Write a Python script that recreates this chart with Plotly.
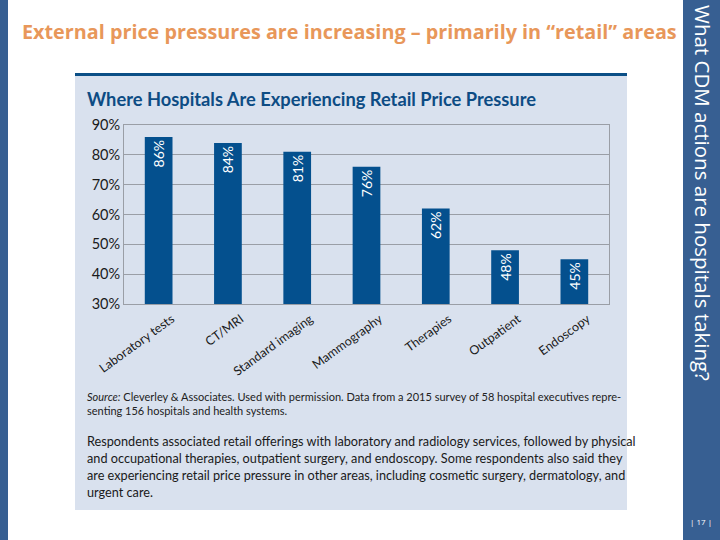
import plotly.graph_objects as go

categories = ["Laboratory tests", "CT/MRI", "Standard imaging", "Mammography",
              "Therapies", "Outpatient", "Endoscopy"]
values = [86, 84, 81, 76, 62, 48, 45]
labels = [f"{v}%" for v in values]
y_ticks = [30, 40, 50, 60, 70, 80, 90]
y_ticktext = [f"{t}%" for t in y_ticks]

slide_title = "External price pressures are increasing \u2013 primarily in \u201cretail\u201d areas"
chart_title = "Where Hospitals Are Experiencing Retail Price Pressure"
side_text = "What CDM actions are hospitals taking?"
page_no = "| 17 |"
source_lines = ["<i>Source:</i> Cleverley & Associates. Used with permission. Data from a 2015 survey of 58 hospital executives repre-",
                "senting 156 hospitals and health systems."]
para_lines = ["Respondents associated retail offerings with laboratory and radiology services, followed by physical",
              "and occupational therapies, outpatient surgery, and endoscopy. Some respondents also said they",
              "are experiencing retail price pressure in other areas, including cosmetic surgery, dermatology, and",
              "urgent care."]

W, H = 720, 540
ML, MR, MT, MB = 124, 111, 125, 236
PW, PH = W - ML - MR, H - MT - MB
BLUE = "#04508E"
CARD = "#D9E1EE"
STRIP = "#375F92"

fig = go.Figure()
fig.add_trace(go.Bar(
    x=categories, y=values, text=labels,
    marker=dict(color=BLUE, line=dict(width=0)),
    textposition="inside", insidetextanchor="end", textangle=-90,
    textfont=dict(color="white", size=14, family="Lato"),
    cliponaxis=True, hoverinfo="x+y",
))

def px(x):
    return (x - ML) / PW

def py(y):
    return (H - MB - y) / PH

shapes = [
    dict(type="rect", xref="paper", yref="paper", x0=px(0), x1=px(8), y0=py(540), y1=py(0),
         fillcolor=STRIP, line=dict(width=0), layer="below"),
    dict(type="rect", xref="paper", yref="paper", x0=px(683), x1=px(720), y0=py(540), y1=py(0),
         fillcolor=STRIP, line=dict(width=0), layer="below"),
    dict(type="rect", xref="paper", yref="paper", x0=px(75), x1=px(627), y0=py(510), y1=py(74),
         fillcolor=CARD, line=dict(width=0), layer="below"),
    dict(type="line", xref="paper", yref="paper", x0=px(75), x1=px(627), y0=py(74.5), y1=py(74.5),
         line=dict(color="#0B4F86", width=3), layer="below"),
]

annotations = [
    dict(text=f"<b>{slide_title}</b>", x=px(20), y=py(31), xref="paper", yref="paper",
         xanchor="left", yanchor="middle", showarrow=False,
         font=dict(size=19.8, color="#E8975A", family="Open Sans")),
    dict(text=f"<b>{chart_title}</b>", x=px(85), y=py(99), xref="paper", yref="paper",
         xanchor="left", yanchor="middle", showarrow=False,
         font=dict(size=18.3, color="#0D4C84", family="Lato")),
    dict(text=side_text, x=px(703), y=py(193), xref="paper", yref="paper",
         xanchor="center", yanchor="middle", showarrow=False, textangle=90,
         font=dict(size=20.5, color="white", family="Open Sans")),
    dict(text=page_no, x=px(701), y=py(521), xref="paper", yref="paper",
         xanchor="center", yanchor="middle", showarrow=False,
         font=dict(size=8, color="white", family="Open Sans")),
]
for i, line in enumerate(source_lines):
    annotations.append(dict(text=line, x=px(85), y=py(396 + 14 * i), xref="paper", yref="paper",
                            xanchor="left", yanchor="middle", showarrow=False,
                            font=dict(size=11, color="#222222", family="Lato")))
for i, line in enumerate(para_lines):
    annotations.append(dict(text=line, x=px(85), y=py(441 + 17 * i), xref="paper", yref="paper",
                            xanchor="left", yanchor="middle", showarrow=False,
                            font=dict(size=12.7, color="#1A1A1A", family="Lato")))

fig.update_layout(
    width=W, height=H,
    margin=dict(l=ML, r=MR, t=MT, b=MB, pad=0),
    paper_bgcolor="white", plot_bgcolor=CARD,
    bargap=0.6, showlegend=False,
    shapes=shapes, annotations=annotations,
    xaxis=dict(tickangle=-36, ticklabelshift=13, ticklabelstandoff=2,
               tickfont=dict(size=12.5, color="#1A1A1A", family="Lato"),
               showline=True, linecolor="#9A9EA6", linewidth=1, mirror=True, ticks=""),
    yaxis=dict(range=[30, 90], tickmode="array", tickvals=y_ticks, ticktext=y_ticktext,
               tickfont=dict(size=14.5, color="#1A1A1A", family="Lato"),
               showgrid=True, gridcolor="#9A9EA6", gridwidth=1,
               showline=True, linecolor="#9A9EA6", linewidth=1, mirror=True,
               ticks="", zeroline=False),
)

fig.write_html("out.html", config={"displayModeBar": False},
               post_script="document.body.style.margin='0';")
